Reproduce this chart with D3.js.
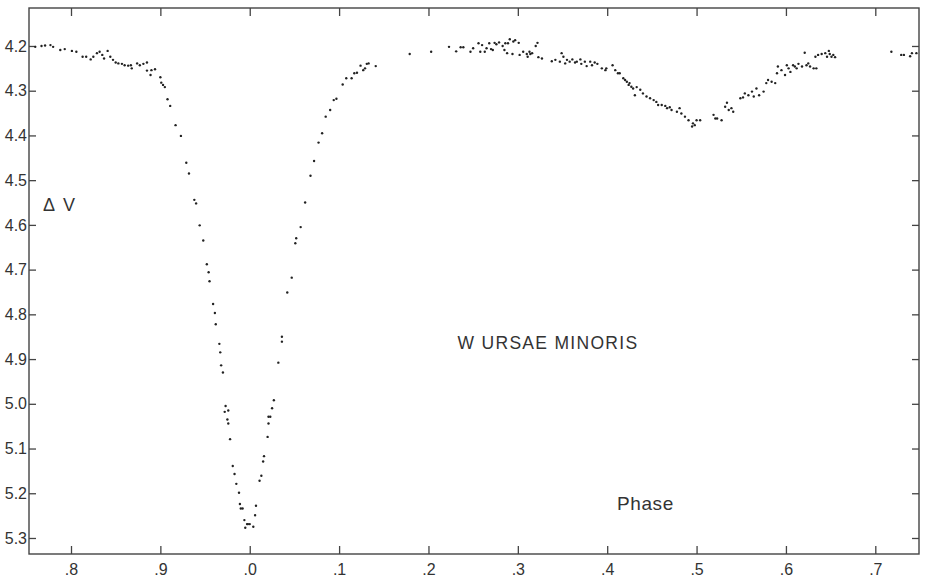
<!DOCTYPE html>
<html>
<head>
<meta charset="utf-8">
<script src="https://cdn.jsdelivr.net/npm/d3@7"></script>
<style>
  html, body { margin: 0; padding: 0; background: #fff; }
  svg { display: block; }
  text { font-family: "Liberation Sans", "DejaVu Sans", sans-serif; fill: #333; }
</style>
</head>
<body>
<svg id="chart" width="925" height="579"></svg>
<script>
// Photoelectric V light curve of W UMa-type eclipsing binary W Ursae Minoris.
// Phase runs continuously past 1.0 so the primary minimum sits mid-plot.
const phase = [
  0.760, 0.767, 0.771, 0.777, 0.780, 0.788, 0.793, 0.801, 0.806, 0.813,
  0.817, 0.822, 0.825, 0.829, 0.832, 0.835, 0.837, 0.841, 0.844, 0.847,
  0.850, 0.853, 0.857, 0.860, 0.864, 0.867, 0.868, 0.874, 0.877, 0.881,
  0.885, 0.885, 0.889, 0.890, 0.894, 0.900, 0.901, 0.903, 0.905, 0.908,
  0.911, 0.917, 0.923, 0.929, 0.932, 0.938, 0.940, 0.944, 0.948, 0.952,
  0.954, 0.955, 0.959, 0.961, 0.962, 0.966, 0.967, 0.968, 0.970, 0.973,
  0.976, 0.972, 0.975, 0.976, 0.978, 0.981, 0.983, 0.985, 0.988, 0.989,
  0.990, 0.992, 0.994, 0.995, 0.997, 0.998, 1.000, 1.004, 1.006, 1.007,
  1.011, 1.013, 1.015, 1.016, 1.020, 1.021, 1.021, 1.023, 1.025, 1.027,
  1.032, 1.036, 1.036, 1.042, 1.047, 1.051, 1.052, 1.057, 1.062, 1.068,
  1.072, 1.077, 1.081, 1.085, 1.090, 1.094, 1.097, 1.104, 1.108, 1.114,
  1.117, 1.120, 1.124, 1.127, 1.129, 1.131, 1.133, 1.141, 1.179, 1.203,
  1.223, 1.231, 1.236, 1.239, 1.247, 1.250, 1.256, 1.258, 1.260, 1.263,
  1.265, 1.268, 1.270, 1.272, 1.274, 1.276, 1.279, 1.283, 1.285, 1.286,
  1.288, 1.289, 1.291, 1.294, 1.295, 1.297, 1.301, 1.302, 1.306, 1.310,
  1.311, 1.313, 1.314, 1.316, 1.320, 1.322, 1.323, 1.327, 1.338, 1.342,
  1.347, 1.349, 1.351, 1.353, 1.355, 1.358, 1.361, 1.364, 1.366, 1.370,
  1.371, 1.375, 1.377, 1.381, 1.383, 1.386, 1.389, 1.394, 1.398, 1.399,
  1.406, 1.409, 1.412, 1.414, 1.418, 1.420, 1.422, 1.424, 1.425, 1.427,
  1.429, 1.431, 1.433, 1.437, 1.440, 1.444, 1.448, 1.452, 1.455, 1.457,
  1.461, 1.465, 1.467, 1.470, 1.472, 1.478, 1.481, 1.483, 1.487, 1.491,
  1.495, 1.496, 1.498, 1.500, 1.504, 1.519, 1.521, 1.523, 1.528, 1.532,
  1.534, 1.536, 1.539, 1.541, 1.549, 1.552, 1.554, 1.558, 1.562, 1.564,
  1.567, 1.570, 1.575, 1.578, 1.580, 1.584, 1.588, 1.590, 1.591, 1.595,
  1.599, 1.601, 1.603, 1.605, 1.608, 1.610, 1.612, 1.614, 1.618, 1.621,
  1.623, 1.625, 1.627, 1.631, 1.634, 1.633, 1.636, 1.640, 1.644, 1.646,
  1.648, 1.649, 1.651, 1.653, 1.655, 1.718, 1.729, 1.732, 1.739, 1.741,
  1.746
];
const deltaV = [
  4.202, 4.200, 4.199, 4.198, 4.202, 4.209, 4.207, 4.211, 4.213, 4.224,
  4.224, 4.230, 4.224, 4.216, 4.213, 4.220, 4.228, 4.211, 4.224, 4.231,
  4.237, 4.239, 4.240, 4.243, 4.244, 4.243, 4.250, 4.239, 4.243, 4.240,
  4.237, 4.255, 4.265, 4.254, 4.252, 4.270, 4.282, 4.287, 4.292, 4.319,
  4.334, 4.377, 4.401, 4.461, 4.485, 4.544, 4.552, 4.601, 4.635, 4.688,
  4.706, 4.726, 4.777, 4.797, 4.822, 4.866, 4.885, 4.914, 4.930, 5.005,
  5.015, 5.018, 5.035, 5.044, 5.079, 5.139, 5.157, 5.179, 5.199, 5.224,
  5.234, 5.234, 5.260, 5.277, 5.269, 5.269, 5.269, 5.275, 5.249, 5.228,
  5.172, 5.161, 5.129, 5.117, 5.074, 5.044, 5.029, 5.029, 5.010, 4.992,
  4.908, 4.850, 4.861, 4.751, 4.718, 4.641, 4.630, 4.605, 4.550, 4.490,
  4.457, 4.416, 4.395, 4.358, 4.343, 4.321, 4.318, 4.286, 4.272, 4.272,
  4.261, 4.260, 4.244, 4.254, 4.250, 4.240, 4.239, 4.245, 4.218, 4.213,
  4.202, 4.212, 4.203, 4.203, 4.213, 4.205, 4.194, 4.213, 4.198, 4.213,
  4.205, 4.194, 4.207, 4.209, 4.193, 4.196, 4.192, 4.200, 4.209, 4.194,
  4.216, 4.194, 4.185, 4.218, 4.190, 4.187, 4.193, 4.220, 4.213, 4.218,
  4.224, 4.213, 4.218, 4.216, 4.200, 4.193, 4.225, 4.228, 4.234, 4.231,
  4.235, 4.216, 4.224, 4.239, 4.231, 4.235, 4.230, 4.237, 4.235, 4.230,
  4.240, 4.235, 4.245, 4.235, 4.243, 4.237, 4.240, 4.250, 4.254, 4.250,
  4.243, 4.254, 4.261, 4.261, 4.272, 4.276, 4.280, 4.287, 4.283, 4.291,
  4.295, 4.310, 4.292, 4.298, 4.306, 4.313, 4.317, 4.321, 4.325, 4.332,
  4.332, 4.334, 4.339, 4.337, 4.343, 4.347, 4.339, 4.351, 4.358, 4.366,
  4.380, 4.373, 4.377, 4.366, 4.366, 4.354, 4.362, 4.362, 4.366, 4.336,
  4.327, 4.343, 4.339, 4.347, 4.317, 4.315, 4.306, 4.310, 4.302, 4.313,
  4.295, 4.310, 4.302, 4.283, 4.276, 4.280, 4.283, 4.261, 4.246, 4.254,
  4.265, 4.243, 4.250, 4.258, 4.243, 4.246, 4.250, 4.240, 4.246, 4.215,
  4.243, 4.239, 4.246, 4.250, 4.250, 4.224, 4.220, 4.218, 4.216, 4.224,
  4.211, 4.218, 4.224, 4.220, 4.225, 4.213, 4.220, 4.220, 4.223, 4.216,
  4.216
];

const phaseTicks = [0.8, 0.9, 1.0, 1.1, 1.2, 1.3, 1.4, 1.5, 1.6, 1.7];
const phaseTickLabels = [".8", ".9", ".0", ".1", ".2", ".3", ".4", ".5", ".6", ".7"];
const magTicks = [4.2, 4.3, 4.4, 4.5, 4.6, 4.7, 4.8, 4.9, 5.0, 5.1, 5.2, 5.3];

const frame = { left: 29, right: 919, top: 8, bottom: 554 };
const ink = "#444";

const svg = d3.select("#chart");

const x = d3.scaleLinear().domain([0.753, 1.7489]).range([frame.left, frame.right]);
const y = d3.scaleLinear().domain([4.1151, 5.3358]).range([frame.top, frame.bottom]);

// Plot border
svg.append("rect")
  .attr("x", frame.left).attr("y", frame.top)
  .attr("width", frame.right - frame.left).attr("height", frame.bottom - frame.top)
  .attr("fill", "none").attr("stroke", ink).attr("stroke-width", 1.4);

function styleAxis(g) {
  g.select(".domain").remove();
  g.selectAll(".tick line").attr("stroke", ink).attr("stroke-width", 1.3);
  g.selectAll(".tick text").attr("fill", "#333").attr("font-size", 16)
    .attr("font-family", "'Liberation Sans', 'DejaVu Sans', sans-serif");
}

// Bottom phase axis, ticks pointing into the plot
svg.append("g")
  .attr("transform", `translate(0,${frame.bottom})`)
  .call(d3.axisBottom(x).tickValues(phaseTicks)
    .tickFormat((d, i) => phaseTickLabels[i])
    .tickSizeInner(-8).tickSizeOuter(0).tickPadding(10))
  .call(styleAxis);

// Top axis, ticks only
svg.append("g")
  .attr("transform", `translate(0,${frame.top})`)
  .call(d3.axisTop(x).tickValues(phaseTicks).tickFormat("")
    .tickSizeInner(-8).tickSizeOuter(0))
  .call(styleAxis);

// Left magnitude axis
svg.append("g")
  .attr("transform", `translate(${frame.left},0)`)
  .call(d3.axisLeft(y).tickValues(magTicks).tickFormat(d3.format(".1f"))
    .tickSizeInner(-7).tickSizeOuter(0).tickPadding(2))
  .call(styleAxis);

// Right axis, ticks only
svg.append("g")
  .attr("transform", `translate(${frame.right},0)`)
  .call(d3.axisRight(y).tickValues(magTicks).tickFormat("")
    .tickSizeInner(-7).tickSizeOuter(0))
  .call(styleAxis);

// Observations
svg.append("g")
  .selectAll("circle")
  .data(d3.range(phase.length))
  .join("circle")
  .attr("cx", i => x(phase[i]))
  .attr("cy", i => y(deltaV[i]))
  .attr("r", 1.2)
  .attr("fill", "#222");

// Labels
svg.append("text")
  .attr("x", 43).attr("y", 211)
  .attr("font-size", 18)
  .attr("letter-spacing", 2)
  .text("\u0394 V");

svg.append("text")
  .attr("x", 548).attr("y", 349)
  .attr("text-anchor", "middle")
  .attr("font-size", 17.5)
  .attr("letter-spacing", 1.3)
  .text("W URSAE MINORIS");

svg.append("text")
  .attr("x", 617).attr("y", 510)
  .attr("font-size", 19)
  .attr("letter-spacing", 0.6)
  .text("Phase");
</script>
</body>
</html>
